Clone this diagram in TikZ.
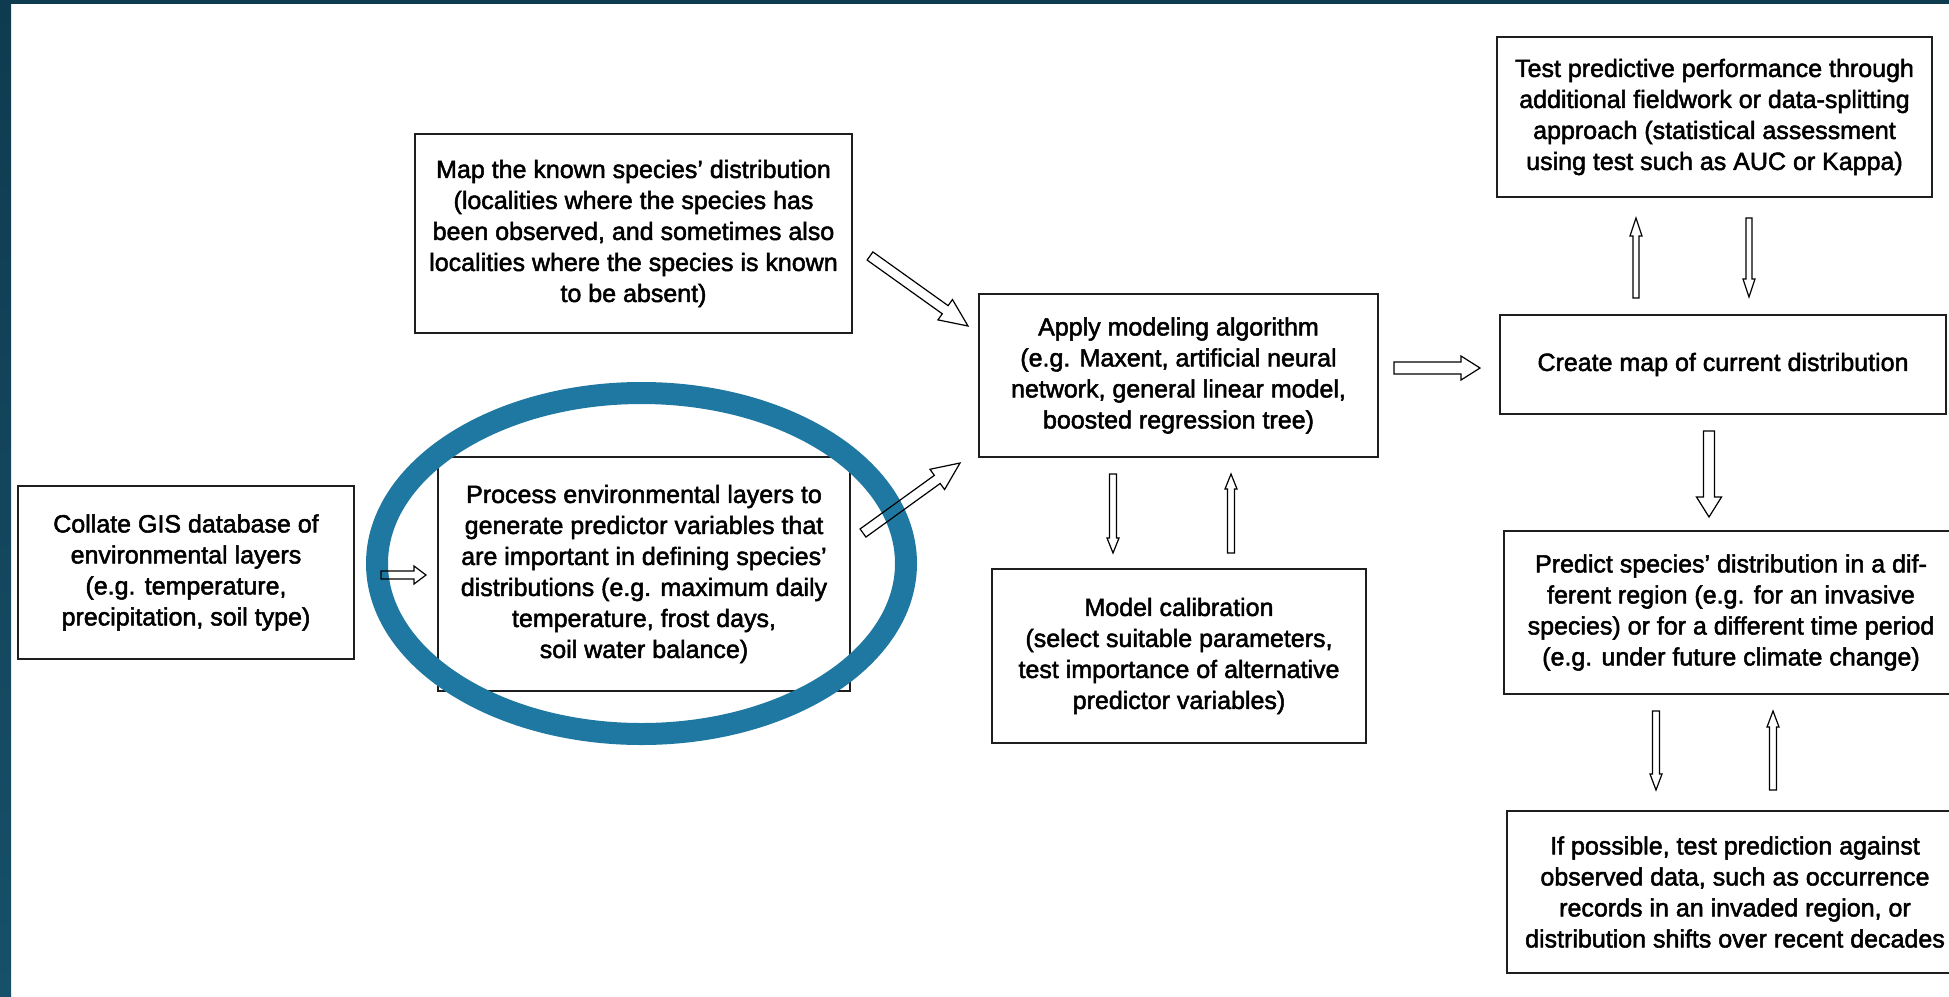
\documentclass[tikz,border=0pt]{standalone}
\usepackage{fontspec}
\setmainfont{Liberation Sans}
\newfontfamily\diafont{Liberation Sans}[FakeBold=2]
\usetikzlibrary{calc}
\definecolor{frameA}{HTML}{0F3B50}
\definecolor{frameB}{HTML}{175069}
\definecolor{ringblue}{HTML}{1F78A1}
\definecolor{boxline}{HTML}{1E1E1E}
\tikzset{
  box/.style={draw=boxline, line width=1pt, fill=white, inner sep=0pt, align=center,
    font=\diafont\fontsize{12.5}{15.5}\selectfont},
  blockarrow/.style={draw=black, line width=0.6pt, line join=miter},
  ring/.style={draw=ringblue, line width=11pt},
}
\newcommand\boxnode[6]{\node[box, minimum width={(#4-#2)*0.5pt}, minimum height={(#5-#3)*0.5pt}] (#1) at ({(#2+#4)/2},{(#3+#5)/2}) {#6};}
% #1 from, #2 to, #3 shaft half width, #4 head half width, #5 head length
\newcommand\blockarr[5]{%
\draw[blockarrow] let \p1=($(#2)-(#1)$), \n1={veclen(\x1,\y1)}, \n2={atan2(\y1,\x1)} in
 ($(#1)+(\n2+90:#3)$) -- ($(#1)+(\n2:\n1-#5)+(\n2+90:#3)$) -- ($(#1)+(\n2:\n1-#5)+(\n2+90:#4)$) -- (#2)
 -- ($(#1)+(\n2:\n1-#5)+(\n2-90:#4)$) -- ($(#1)+(\n2:\n1-#5)+(\n2-90:#3)$) -- ($(#1)+(\n2-90:#3)$) -- cycle;}
\begin{document}
\begin{tikzpicture}[x=0.5pt, y=-0.5pt]
\useasboundingbox (0,0) rectangle (1949,996);
\fill[white] (0,0) rectangle (1949,996);
\shade[top color=frameA, bottom color=frameB] (0,0) rectangle (11,996);
\fill[frameA] (0,0) rectangle (1949,4);

\boxnode{map}{415}{134}{852}{333}{Map the known species’ distribution\\(localities where the species has\\been observed, and sometimes also\\localities where the species is known\\to be absent)}
\boxnode{apply}{979}{294}{1378}{457}{Apply modeling algorithm\\(e.g. Maxent, artificial neural\\network, general linear model,\\boosted regression tree)}
\boxnode{calib}{992}{569}{1366}{743}{Model calibration\\(select suitable parameters,\\test importance of alternative\\predictor variables)}
\boxnode{collate}{18}{486}{354}{659}{Collate GIS database of\\environmental layers\\(e.g. temperature,\\precipitation, soil type)}
\boxnode{process}{438}{457}{850}{691}{Process environmental layers to\\generate predictor variables that\\are important in defining species’\\distributions (e.g. maximum daily\\temperature, frost days,\\soil water balance)}
\boxnode{test}{1497}{37}{1932}{197}{Test predictive performance through\\additional fieldwork or data-splitting\\approach (statistical assessment\\using test such as AUC or Kappa)}
\boxnode{create}{1500}{315}{1946}{414}{Create map of current distribution}
\boxnode{predict}{1504}{531}{1958}{694}{Predict species’ distribution in a dif-\\ferent region (e.g. for an invasive\\species) or for a different time period\\(e.g. under future climate change)}
\boxnode{ifposs}{1507}{811}{1963}{973}{If possible, test prediction against\\observed data, such as occurrence\\records in an invaded region, or\\distribution shifts over recent decades}

\draw[ring] (641.5,563.5) ellipse [x radius=264.5, y radius=170.5];

\coordinate (a1s) at (381,575); \coordinate (a1e) at (426,575);
\coordinate (a2s) at (870,256); \coordinate (a2e) at (968,326);
\coordinate (a3s) at (863,533); \coordinate (a3e) at (960,463);
\coordinate (a4s) at (1113,474); \coordinate (a4e) at (1113,553);
\coordinate (a5s) at (1231,553); \coordinate (a5e) at (1231,474);
\coordinate (a6s) at (1394,368); \coordinate (a6e) at (1480,368);
\coordinate (a7s) at (1636,298); \coordinate (a7e) at (1636,218);
\coordinate (a8s) at (1749,218); \coordinate (a8e) at (1749,297);
\coordinate (a9s) at (1709,431); \coordinate (a9e) at (1709,517);
\coordinate (a10s) at (1656,711); \coordinate (a10e) at (1656,790);
\coordinate (a11s) at (1773,790); \coordinate (a11e) at (1773,711);

\blockarr{a1s}{a1e}{2pt}{4.5pt}{6pt}
\blockarr{a2s}{a2e}{2.5pt}{6.25pt}{14pt}
\blockarr{a3s}{a3e}{2.5pt}{6.25pt}{14pt}
\blockarr{a4s}{a4e}{1.75pt}{3pt}{7.5pt}
\blockarr{a5s}{a5e}{1.75pt}{3pt}{7.5pt}
\blockarr{a6s}{a6e}{3pt}{6pt}{9.5pt}
\blockarr{a7s}{a7e}{1.5pt}{3pt}{9pt}
\blockarr{a8s}{a8e}{1.5pt}{3pt}{9pt}
\blockarr{a9s}{a9e}{2.75pt}{6.25pt}{10pt}
\blockarr{a10s}{a10e}{1.75pt}{3pt}{8pt}
\blockarr{a11s}{a11e}{1.75pt}{3pt}{8pt}
\end{tikzpicture}
\end{document}
